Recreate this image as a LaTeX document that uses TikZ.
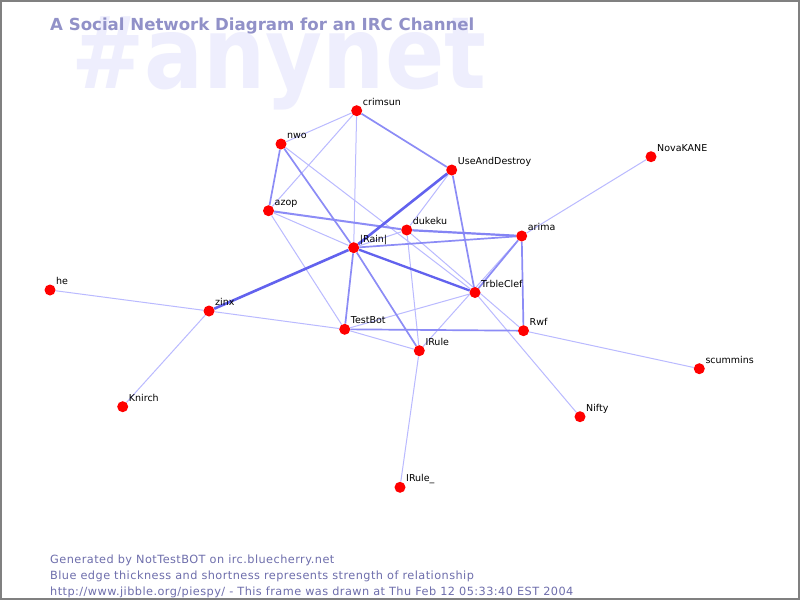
\documentclass[tikz,border=0pt]{standalone}
\usepackage{fontspec}
\setmainfont{DejaVu Sans}
\newfontfamily\footfont[LetterSpace=4]{DejaVu Sans}
\pgfdeclarelayer{background}
\pgfdeclarelayer{chanlayer}
\pgfsetlayers{chanlayer,background,main}
\definecolor{edgeA}{RGB}{98,98,238}
\definecolor{edgeB}{RGB}{140,140,246}
\definecolor{edgeC}{RGB}{186,186,255}
\definecolor{chancol}{RGB}{238,238,253}
\definecolor{ttlcol}{RGB}{145,145,200}
\definecolor{footcol}{RGB}{110,110,172}
\definecolor{framecol}{RGB}{128,128,128}
\definecolor{dotred}{RGB}{255,0,0}
\tikzset{
  dot/.style={circle, fill=dotred, draw=none, minimum size=11pt, inner sep=0pt},
  lbl/.style={anchor=base west, inner sep=0pt, text=black, font=\fontsize{9.5}{11}\selectfont},
  ethick/.style={draw=edgeA, line width=2.6pt},
  emed/.style={draw=edgeB, line width=1.7pt},
  ethin/.style={draw=edgeC, line width=1pt},
  foot/.style={anchor=base west, inner sep=0pt, text=footcol, font=\footfont\fontsize{11.3}{12}\selectfont},
}
\newcommand{\pnode}[4]{%
  \node[dot] (#1) at (#2,#3) {};
  \node[lbl] (#1-l) at ([shift={(6,-5.5)}]#1.center) {#4};}
\begin{document}
\begin{tikzpicture}[x=1pt, y=-1pt]
\useasboundingbox (0,0) rectangle (800,600);
\begin{pgfonlayer}{chanlayer}
\fill[white] (0,0) rectangle (800,600);
\node[anchor=base west, inner sep=0pt, text=chancol, xscale=0.875, transform shape, font=\fontsize{100}{100}\selectfont\bfseries] (chan) at (71,88) {\#anynet};
\end{pgfonlayer}
\draw[framecol, line width=2pt] (1,1) rectangle (799,599);
\node[anchor=base west, inner sep=0pt, text=ttlcol, font=\fontsize{16.6}{20}\selectfont\bfseries] (title) at (50,30) {A Social Network Diagram for an IRC Channel};
% nodes
\pnode{crimsun}{356.7}{110.7}{crimsun}
\pnode{nwo}{281}{144}{nwo}
\pnode{uad}{451.7}{170}{UseAndDestroy}
\pnode{nova}{651}{156.7}{NovaKANE}
\pnode{azop}{268.5}{210.7}{azop}
\pnode{dukeku}{406.7}{230}{dukeku}
\pnode{arima}{521.7}{236}{arima}
\pnode{rain}{353.7}{247.7}{|Rain|}
\pnode{he}{50}{290}{he}
\pnode{trble}{475}{292.5}{TrbleClef}
\pnode{zinx}{209}{311}{zinx}
\pnode{testbot}{344.7}{329.3}{TestBot}
\pnode{rwf}{523.5}{330.7}{Rwf}
\pnode{irule}{419.3}{350.7}{IRule}
\pnode{scummins}{699.3}{368.7}{scummins}
\pnode{knirch}{122.7}{406.7}{Knirch}
\pnode{nifty}{580}{416.7}{Nifty}
\pnode{irule2}{400}{487.3}{IRule\_}
% edges
\begin{pgfonlayer}{background}
\draw[ethin] (crimsun) -- (nwo);
\draw[ethin] (crimsun) -- (azop);
\draw[ethin] (crimsun) -- (rain);
\draw[ethin] (nwo) -- (trble);
\draw[ethin] (azop) -- (rain);
\draw[ethin] (azop) -- (testbot);
\draw[ethin] (rain) -- (dukeku);
\draw[ethin] (uad) -- (dukeku);
\draw[ethin] (dukeku) -- (irule);
\draw[ethin] (dukeku) -- (rwf);
\draw[ethin] (arima) -- (irule);
\draw[ethin] (arima) -- (nova);
\draw[ethin] (trble) -- (testbot);
\draw[ethin] (trble) -- (nifty);
\draw[ethin] (testbot) -- (irule);
\draw[ethin] (zinx) -- (testbot);
\draw[ethin] (zinx) -- (he);
\draw[ethin] (zinx) -- (knirch);
\draw[ethin] (rwf) -- (scummins);
\draw[ethin] (irule) -- (irule2);
\draw[emed] (crimsun) -- (uad);
\draw[emed] (nwo) -- (azop);
\draw[emed] (nwo) -- (rain);
\draw[emed] (rain) -- (arima);
\draw[emed] (rain) -- (testbot);
\draw[emed] (rain) -- (irule);
\draw[emed] (uad) -- (trble);
\draw[emed] (arima) -- (trble);
\draw[emed] (arima) -- (rwf);
\draw[emed] (testbot) -- (rwf);
\draw[emed, line width=2pt] (azop) -- (dukeku);
\draw[ethick, line width=2.2pt, draw=edgeB!80!edgeA] (dukeku) -- (arima);
\draw[ethick] (rain) -- (zinx);
\draw[ethick] (rain) -- (uad);
\draw[ethick, line width=2.3pt] (rain) -- (trble);
\end{pgfonlayer}
% footer
\node[foot] (f1) at (50,563) {Generated by NotTestBOT on irc.bluecherry.net};
\node[foot] (f2) at (50,579) {Blue edge thickness and shortness represents strength of relationship};
\node[foot] (f3) at (50,595) {http://www.jibble.org/piespy/ - This frame was drawn at Thu Feb 12 05:33:40 EST 2004};
\end{tikzpicture}
\end{document}
